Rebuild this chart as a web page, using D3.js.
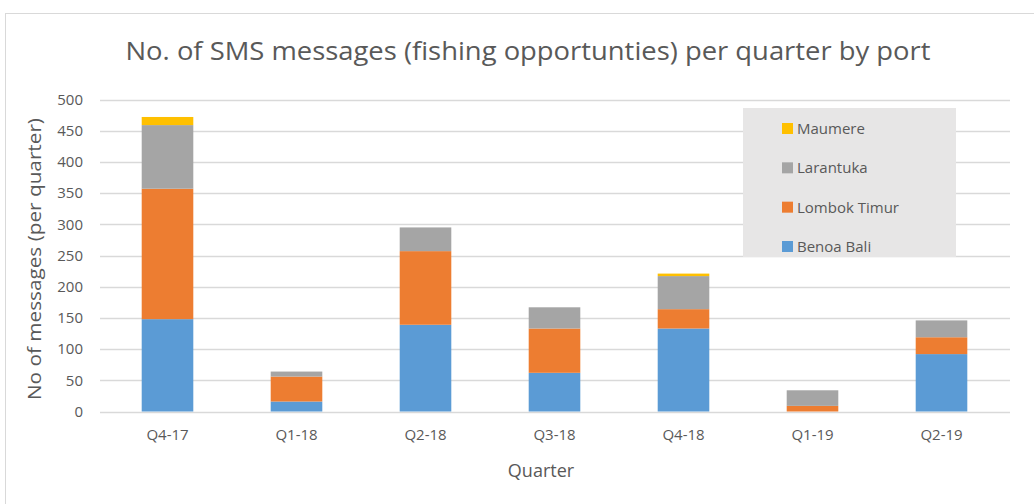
<!DOCTYPE html>
<html>
<head>
<meta charset="utf-8">
<script src="https://cdn.jsdelivr.net/npm/d3@7"></script>
<style>
  body { margin: 0; background: #fff; }
  text { font-family: 'Open Sans', 'Noto Sans', sans-serif; fill: #595959; }
</style>
</head>
<body>
<svg width="1034" height="504"></svg>
<script>
// Data
const quarters = ['Q4-17', 'Q1-18', 'Q2-18', 'Q3-18', 'Q4-18', 'Q1-19', 'Q2-19'];
const ports = ['Benoa Bali', 'Lombok Timur', 'Larantuka', 'Maumere'];
const benoaBali = [148, 16, 139, 62, 133, 0, 92];
const lombokTimur = [209, 40, 118, 71, 31, 9, 27];
const larantuka = [102, 8, 38, 34, 53, 25, 27];
const maumere = [13, 0, 0, 0, 4, 0, 0];
const yTicks = [0, 50, 100, 150, 200, 250, 300, 350, 400, 450, 500];
const colors = ['#5b9bd5', '#ed7d31', '#a5a5a5', '#ffc000'];

// The svg
const svg = d3.select('svg'),
  width = +svg.attr('width'),
  height = +svg.attr('height');

// chart border
svg
  .append('rect')
  .attr('x', 5.5)
  .attr('y', 13.5)
  .attr('width', width + 10)
  .attr('height', height)
  .attr('fill', 'none')
  .attr('stroke', '#d9d9d9');

const table = quarters.map(function (q, i) {
  return {
    quarter: q,
    'Benoa Bali': benoaBali[i],
    'Lombok Timur': lombokTimur[i],
    Larantuka: larantuka[i],
    Maumere: maumere[i],
  };
});
const series = d3.stack().keys(ports)(table);

// scales
const x = d3
  .scaleBand()
  .domain(quarters)
  .range([103, 1006])
  .paddingInner(0.6)
  .paddingOuter(0.3);
const y = d3.scaleLinear().domain([0, 500]).range([411.5, 99.5]);
const color = d3.scaleOrdinal().domain(ports).range(colors);

// gridlines
svg
  .append('g')
  .selectAll('line')
  .data(yTicks)
  .enter()
  .append('line')
  .attr('x1', 100)
  .attr('x2', 1010)
  .attr('y1', (d) => Math.round(y(d)) + 0.5)
  .attr('y2', (d) => Math.round(y(d)) + 0.5)
  .attr('stroke', '#d9d9d9')
  .attr('stroke-width', 1.3);

// y axis labels
const yAxis = svg
  .append('g')
  .attr('transform', 'translate(83,0)')
  .call(d3.axisLeft(y).tickValues(yTicks).tickSize(0).tickPadding(0));
yAxis.select('.domain').remove();
yAxis
  .selectAll('text')
  .attr('font-size', 15)
  .attr('fill', '#595959')
  .attr('font-family', "'Open Sans', sans-serif");

// bars
svg
  .append('g')
  .selectAll('g')
  .data(series)
  .enter()
  .append('g')
  .attr('fill', (d) => color(d.key))
  .selectAll('rect')
  .data((d) => d)
  .enter()
  .append('rect')
  .attr('x', (d) => x(d.data.quarter))
  .attr('y', (d) => y(d[1]))
  .attr('width', x.bandwidth())
  .attr('height', (d) => y(d[0]) - y(d[1]));

// x axis labels
const xAxis = svg
  .append('g')
  .attr('transform', 'translate(0,425)')
  .call(d3.axisBottom(x).tickSize(0).tickPadding(4));
xAxis.select('.domain').remove();
xAxis
  .selectAll('text')
  .attr('font-size', 15)
  .attr('fill', '#595959')
  .attr('font-family', "'Open Sans', sans-serif");

// title
svg
  .append('text')
  .attr('x', 528)
  .attr('y', 60)
  .attr('text-anchor', 'middle')
  .attr('font-size', 25)
  .attr('textLength', 805)
  .attr('lengthAdjust', 'spacingAndGlyphs')
  .text('No. of SMS messages (fishing opportunties) per quarter by port');

// axis titles
svg
  .append('text')
  .attr('x', 541)
  .attr('y', 477)
  .attr('text-anchor', 'middle')
  .attr('font-size', 18)
  .text('Quarter');
svg
  .append('text')
  .attr('transform', 'translate(41,259) rotate(-90)')
  .attr('text-anchor', 'middle')
  .attr('font-size', 18)
  .attr('textLength', 282)
  .attr('lengthAdjust', 'spacingAndGlyphs')
  .text('No of messages (per quarter)');

// legend
const legend = svg.append('g');
legend
  .append('rect')
  .attr('x', 743)
  .attr('y', 108)
  .attr('width', 213)
  .attr('height', 149)
  .attr('fill', '#e7e6e6');
const legendY = d3
  .scalePoint()
  .domain(ports.slice().reverse())
  .range([128, 246]);
const item = legend
  .selectAll('g')
  .data(ports)
  .enter()
  .append('g')
  .attr('transform', (d) => `translate(782,${legendY(d)})`);
item
  .append('rect')
  .attr('x', 0)
  .attr('y', -5)
  .attr('width', 11)
  .attr('height', 11)
  .attr('fill', (d) => color(d));
item
  .append('text')
  .attr('x', 15)
  .attr('y', 6)
  .attr('font-size', 15)
  .text((d) => d);
</script>
</body>
</html>
